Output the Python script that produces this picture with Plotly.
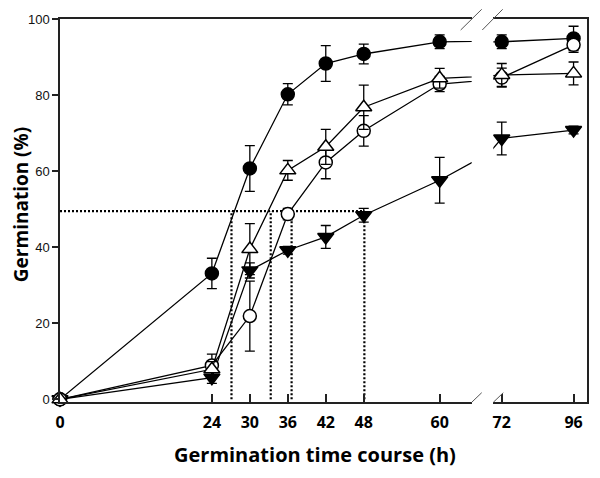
import plotly.graph_objects as go

# ---------------- data ----------------
hours = [0, 24, 30, 36, 42, 48, 60, 72, 96]

filled_circle = [0, 33.1, 60.7, 80.2, 88.3, 90.8, 94.0, 94.0, 94.9]
filled_circle_err = [0, 4.0, 6.0, 2.8, 4.7, 2.6, 1.8, 1.8, 3.2]

open_circle = [0, 8.9, 21.9, 48.7, 62.3, 70.6, 82.9, 84.6, 93.2]
open_circle_err = [0, 3.0, 9.2, 1.5, 4.3, 4.0, 2.0, 2.5, 2.0]

open_triangle = [0, 7.9, 39.5, 60.2, 66.4, 76.8, 84.4, 85.3, 85.7]
open_triangle_err = [0, 2.0, 6.7, 2.6, 4.6, 5.8, 2.6, 3.0, 3.0]

filled_triangle = [0, 5.7, 33.9, 39.2, 42.7, 48.4, 57.6, 68.6, 70.8]
filled_triangle_err = [0, 1.5, 2.0, 1.0, 3.0, 1.8, 6.0, 4.3, 1.0]

t50_level = 49.5
t50_times = [27.1, 33.3, 36.6, 48.1]

left_ticks = [0, 24, 30, 36, 42, 48, 60]
right_ticks = [72, 96]
y_ticks = [0, 20, 40, 60, 80, 100]

# ---------------- figure ----------------
fig = go.Figure()

# dotted T50 guide lines
fig.add_trace(go.Scatter(x=[0, max(t50_times)], y=[t50_level, t50_level], mode="lines",
                         line=dict(color="black", width=2.2, dash="2px,2px"),
                         xaxis="x", yaxis="y", showlegend=False, hoverinfo="skip"))
for t in t50_times:
    fig.add_trace(go.Scatter(x=[t, t], y=[0, t50_level], mode="lines",
                             line=dict(color="black", width=2.2, dash="2px,2px"),
                             xaxis="x", yaxis="y", showlegend=False, hoverinfo="skip"))

series = [
    (filled_circle, filled_circle_err, "circle", "black"),
    (filled_triangle, filled_triangle_err, "triangle-down", "black"),
    (open_circle, open_circle_err, "circle", "white"),
    (open_triangle, open_triangle_err, "triangle-up", "white"),
]

left_idx = [i for i, h in enumerate(hours) if h <= 60]
right_idx = [i for i, h in enumerate(hours) if h >= 72]

for vals, errs, sym, fill in series:
    size = 13 if sym == "circle" else 14
    for xa, ya, idx in (("x", "y", left_idx), ("x2", "y2", right_idx)):
        # connecting line over all points (clipped at the break)
        fig.add_trace(go.Scatter(x=hours, y=vals, mode="lines",
                                 line=dict(color="black", width=1.3),
                                 xaxis=xa, yaxis=ya, showlegend=False, hoverinfo="skip"))
        # markers with error bars
        fig.add_trace(go.Scatter(
            x=[hours[i] for i in idx], y=[vals[i] for i in idx], mode="markers",
            marker=dict(symbol=sym, size=size, color=fill,
                        line=dict(color="black", width=1.5)),
            error_y=dict(type="data", array=[errs[i] for i in idx], visible=True,
                         color="black", thickness=1.3, width=5),
            cliponaxis=False, xaxis=xa, yaxis=ya, showlegend=False))

axis_line = dict(showline=True, linecolor="#222", linewidth=1.5, showgrid=False, zeroline=False)
xfont = dict(family="Open Sans", size=16, color="black", weight="bold")

# page has an 8px body margin: figure is sized so the page is exactly 600x478
fig.update_layout(
    width=584, height=462, autosize=False,
    margin=dict(l=52, r=5, t=11, b=68),
    paper_bgcolor="white", plot_bgcolor="white",
    xaxis=dict(domain=[0, 0.7812], range=[0, 65.06], tickvals=left_ticks,
               ticktext=[str(v) for v in left_ticks], ticks="inside", ticklen=8,
               tickwidth=1.5, tickcolor="#222", mirror=True, tickfont=xfont,
               ticklabelstandoff=5, anchor="y", **axis_line),
    xaxis2=dict(domain=[0.8222, 1], range=[69.18, 100.49], tickvals=right_ticks,
                ticktext=[str(v) for v in right_ticks], ticks="inside", ticklen=8,
                tickwidth=1.5, tickcolor="#222", mirror=True, tickfont=xfont,
                ticklabelstandoff=5, anchor="y2", **axis_line),
    yaxis=dict(range=[-0.7, 100], tickvals=y_ticks, ticks="outside", ticklen=6,
               tickwidth=1.5, tickcolor="#222", anchor="x",
               tickfont=dict(family="Liberation Sans", size=13, color="#111"), **axis_line),
    yaxis2=dict(range=[-0.7, 100], side="right", anchor="x2", ticks="",
                showticklabels=False, **axis_line),
    annotations=[
        dict(text="<b>Germination time course (h)</b>", xref="paper", yref="paper",
             x=0.484, y=-0.138, xanchor="center", yanchor="middle", showarrow=False,
             font=dict(family="Open Sans", size=20, color="black")),
        dict(text="<b>Germination (%)</b>", xref="paper", yref="paper",
             x=-0.074, y=0.514, xanchor="center", yanchor="middle", showarrow=False,
             textangle=-90, font=dict(family="Open Sans", size=19, color="black")),
    ],
    shapes=[
        dict(type="line", xref="paper", yref="paper", x0=0.7603, y0=0.9713, x1=0.8002, y1=1.0253,
             line=dict(color="#555", width=1)),
        dict(type="line", xref="paper", yref="paper", x0=0.8013, y0=0.9713, x1=0.8400, y1=1.0253,
             line=dict(color="#555", width=1)),
        dict(type="line", xref="paper", yref="paper", x0=0.7812, y0=-0.0008, x1=0.8002, y1=0.0243,
             line=dict(color="#555", width=1)),
        dict(type="line", xref="paper", yref="paper", x0=0.8222, y0=-0.0008, x1=0.8412, y1=0.0243,
             line=dict(color="#555", width=1)),
    ],
)

fig.write_html("out.html")
